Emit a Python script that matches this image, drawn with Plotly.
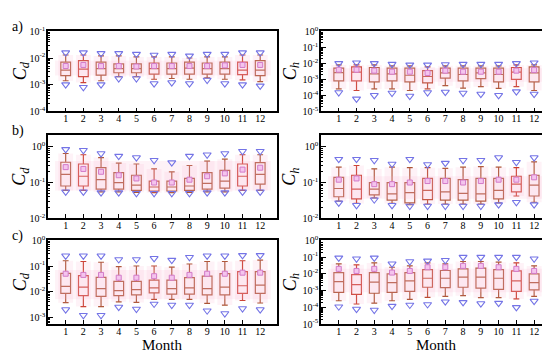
import plotly.graph_objects as go

months = list(range(1, 13))

# ---- Panel a) Cd ----
a_cd_tri_hi = [1.6e-2, 1.6e-2, 1.5e-2, 1.5e-2, 1.4e-2, 1.3e-2, 1.4e-2, 1.2e-2, 1.4e-2, 1.4e-2, 1.6e-2, 1.6e-2]
a_cd_wh_hi = [1.3e-2, 1.3e-2, 1.2e-2, 1.2e-2, 1.1e-2, 1.1e-2, 1.1e-2, 1.0e-2, 1.1e-2, 1.1e-2, 1.3e-2, 1.3e-2]
a_cd_q3 = [7e-3, 8e-3, 7e-3, 6e-3, 6e-3, 6.5e-3, 6.5e-3, 7e-3, 6.5e-3, 7e-3, 7e-3, 8e-3]
a_cd_med = [3.5e-3, 3.8e-3, 4.0e-3, 4.0e-3, 4.0e-3, 4.0e-3, 4.0e-3, 4.2e-3, 4.0e-3, 4.0e-3, 3.5e-3, 3.5e-3]
a_cd_q1 = [2.2e-3, 2.0e-3, 2.3e-3, 2.8e-3, 2.8e-3, 2.5e-3, 2.5e-3, 2.5e-3, 2.5e-3, 2.5e-3, 2.4e-3, 2.2e-3]
a_cd_wh_lo = [1.4e-3, 1.2e-3, 1.4e-3, 2.0e-3, 2.0e-3, 1.6e-3, 1.7e-3, 1.6e-3, 1.8e-3, 1.6e-3, 1.5e-3, 1.3e-3]
a_cd_tri_lo = [1.0e-3, 0.8e-3, 1.0e-3, 1.7e-3, 1.7e-3, 1.1e-3, 1.2e-3, 1.1e-3, 1.5e-3, 1.1e-3, 1.0e-3, 0.9e-3]
a_cd_mean = [5e-3, 5.5e-3, 5e-3, 5e-3, 4.8e-3, 5e-3, 5e-3, 5e-3, 5e-3, 5.3e-3, 5.5e-3, 5.5e-3]

# ---- Panel a) Ch ----
a_ch_tri_hi = [1e-2, 1.1e-2, 1e-2, 9e-3, 8e-3, 8e-3, 8.5e-3, 9e-3, 9e-3, 9e-3, 1e-2, 1.1e-2]
a_ch_wh_hi = [8e-3, 8e-3, 8e-3, 7e-3, 7e-3, 6e-3, 7e-3, 7e-3, 7e-3, 7e-3, 8e-3, 8e-3]
a_ch_q3 = [5e-3, 6e-3, 5.5e-3, 5e-3, 5e-3, 3.5e-3, 5e-3, 5e-3, 5e-3, 5e-3, 5.5e-3, 6e-3]
a_ch_med = [2.6e-3, 2.8e-3, 2.2e-3, 2.2e-3, 1.8e-3, 1.5e-3, 2.5e-3, 2e-3, 2.5e-3, 2e-3, 2.8e-3, 2.5e-3]
a_ch_q1 = [8e-4, 8e-4, 7e-4, 8e-4, 7e-4, 6e-4, 1.2e-3, 8e-4, 1.1e-3, 7e-4, 1e-3, 7e-4]
a_ch_wh_lo = [2.5e-4, 2e-4, 2.5e-4, 2.5e-4, 2e-4, 2.5e-4, 4e-4, 2.8e-4, 3.5e-4, 2.7e-4, 3.5e-4, 2e-4]
a_ch_tri_lo = [1.5e-4, 6e-5, 1e-4, 1.4e-4, 9e-5, 1.5e-4, 1.6e-4, 1.4e-4, 1.2e-4, 1e-4, 1.7e-4, 1.2e-4]
a_ch_mean = [4e-3, 4e-3, 3.5e-3, 3e-3, 3e-3, 2.5e-3, 3.5e-3, 3e-3, 3e-3, 3e-3, 3.5e-3, 3.8e-3]

# ---- Panel b) Cd ----
b_cd_tri_hi = [0.85, 0.8, 0.65, 0.55, 0.5, 0.42, 0.36, 0.55, 0.6, 0.65, 0.75, 0.75]
b_cd_wh_hi = [0.65, 0.6, 0.5, 0.35, 0.33, 0.24, 0.2, 0.3, 0.4, 0.45, 0.6, 0.6]
b_cd_q3 = [0.37, 0.33, 0.26, 0.19, 0.16, 0.11, 0.11, 0.13, 0.19, 0.22, 0.33, 0.36]
b_cd_med = [0.17, 0.15, 0.12, 0.1, 0.085, 0.075, 0.075, 0.08, 0.095, 0.11, 0.15, 0.17]
b_cd_q1 = [0.08, 0.08, 0.065, 0.065, 0.06, 0.058, 0.058, 0.06, 0.065, 0.07, 0.08, 0.09]
b_cd_wh_lo = [0.06, 0.06, 0.055, 0.055, 0.053, 0.052, 0.052, 0.053, 0.055, 0.055, 0.06, 0.06]
b_cd_tri_lo = [0.055, 0.055, 0.052, 0.052, 0.05, 0.05, 0.05, 0.05, 0.052, 0.052, 0.055, 0.055]
b_cd_mean = [0.27, 0.24, 0.2, 0.16, 0.13, 0.1, 0.1, 0.12, 0.15, 0.18, 0.23, 0.26]

# ---- Panel b) Ch ----
b_ch_tri_hi = [0.45, 0.45, 0.42, 0.33, 0.45, 0.32, 0.35, 0.42, 0.42, 0.5, 0.37, 0.5]
b_ch_wh_hi = [0.27, 0.3, 0.24, 0.27, 0.26, 0.26, 0.25, 0.27, 0.28, 0.27, 0.26, 0.38]
b_ch_q3 = [0.14, 0.16, 0.1, 0.1, 0.1, 0.13, 0.13, 0.12, 0.13, 0.13, 0.15, 0.16]
b_ch_med = [0.068, 0.065, 0.065, 0.048, 0.052, 0.06, 0.055, 0.05, 0.048, 0.06, 0.09, 0.085]
b_ch_q1 = [0.04, 0.035, 0.045, 0.032, 0.027, 0.033, 0.032, 0.032, 0.03, 0.035, 0.055, 0.042]
b_ch_wh_lo = [0.03, 0.026, 0.037, 0.026, 0.024, 0.025, 0.025, 0.025, 0.025, 0.027, 0.042, 0.028]
b_ch_tri_lo = [0.027, 0.023, 0.033, 0.023, 0.022, 0.022, 0.022, 0.022, 0.022, 0.024, 0.028, 0.024]
b_ch_mean = [0.12, 0.13, 0.09, 0.09, 0.1, 0.11, 0.11, 0.1, 0.11, 0.12, 0.12, 0.14]

# ---- Panel c) Cd ----
c_cd_tri_hi = [0.25, 0.25, 0.25, 0.18, 0.18, 0.2, 0.17, 0.22, 0.25, 0.25, 0.26, 0.26]
c_cd_wh_hi = [0.16, 0.15, 0.14, 0.095, 0.1, 0.1, 0.09, 0.12, 0.15, 0.15, 0.16, 0.17]
c_cd_q3 = [0.052, 0.042, 0.036, 0.025, 0.025, 0.028, 0.028, 0.035, 0.04, 0.05, 0.06, 0.06]
c_cd_med = [0.016, 0.015, 0.013, 0.011, 0.012, 0.014, 0.013, 0.014, 0.013, 0.015, 0.017, 0.018]
c_cd_q1 = [0.0085, 0.007, 0.0065, 0.007, 0.0075, 0.009, 0.008, 0.008, 0.0075, 0.0075, 0.0085, 0.0085]
c_cd_wh_lo = [0.0037, 0.0026, 0.0026, 0.004, 0.0038, 0.005, 0.005, 0.005, 0.0035, 0.003, 0.0045, 0.0036]
c_cd_tri_lo = [0.002, 0.0012, 0.0012, 0.0025, 0.0021, 0.0033, 0.003, 0.003, 0.0018, 0.0014, 0.0022, 0.002]
c_cd_mean = [0.05, 0.045, 0.045, 0.035, 0.035, 0.04, 0.035, 0.045, 0.05, 0.05, 0.055, 0.055]

# ---- Panel c) Ch ----
c_ch_tri_hi = [0.09, 0.08, 0.09, 0.04, 0.055, 0.06, 0.065, 0.1, 0.1, 0.1, 0.1, 0.08]
c_ch_wh_hi = [0.04, 0.035, 0.045, 0.025, 0.03, 0.045, 0.04, 0.055, 0.055, 0.05, 0.045, 0.03]
c_ch_q3 = [0.012, 0.009, 0.012, 0.01, 0.012, 0.018, 0.016, 0.02, 0.022, 0.018, 0.015, 0.01]
c_ch_med = [0.0035, 0.0023, 0.0032, 0.003, 0.0038, 0.0055, 0.0055, 0.0065, 0.0065, 0.0055, 0.0038, 0.003]
c_ch_q1 = [8e-4, 6e-4, 7e-4, 8e-4, 9e-4, 1.6e-3, 1.5e-3, 1.6e-3, 1.4e-3, 1.2e-3, 9e-4, 1.1e-3]
c_ch_wh_lo = [2.5e-4, 1.6e-4, 1.8e-4, 2.5e-4, 3e-4, 4e-4, 4.5e-4, 5e-4, 3.8e-4, 3.8e-4, 3.2e-4, 4.5e-4]
c_ch_tri_lo = [1.1e-4, 8e-5, 7e-5, 1.2e-4, 1.4e-4, 1.5e-4, 2.2e-4, 2e-4, 1.7e-4, 1.8e-4, 1e-4, 2.4e-4]
c_ch_mean = [0.02, 0.015, 0.02, 0.012, 0.015, 0.025, 0.025, 0.03, 0.03, 0.025, 0.02, 0.015]

# overall shaded band (low, high) for each panel
band_a_cd = [2.2e-3, 8e-3]
band_a_ch = [7e-4, 5e-3]
band_b_cd = [0.06, 0.4]
band_b_ch = [0.035, 0.15]
band_c_cd = [0.005, 0.07]
band_c_ch = [8e-4, 0.02]

# y-axis decade exponents shown for each panel
exp_a_cd = [-4, -3, -2, -1]
exp_a_ch = [-5, -4, -3, -2, -1, 0]
exp_b_cd = [-2, -1, 0]
exp_b_ch = [-2, -1, 0]
exp_c_cd = [-3, -2, -1, 0]
exp_c_ch = [-5, -4, -3, -2, -1, 0]

# box edge colour per month
box_colors = ["#a8502e", "#c83a2a", "#a8502e", "#a8502e", "#a8502e", "#b8462c",
              "#a8502e", "#a8502e", "#a8502e", "#a8502e", "#c83a2a", "#a8502e"]

panels = [
    ("x", "y", a_cd_tri_hi, a_cd_wh_hi, a_cd_q3, a_cd_med, a_cd_q1, a_cd_wh_lo, a_cd_tri_lo, a_cd_mean, band_a_cd),
    ("x2", "y2", a_ch_tri_hi, a_ch_wh_hi, a_ch_q3, a_ch_med, a_ch_q1, a_ch_wh_lo, a_ch_tri_lo, a_ch_mean, band_a_ch),
    ("x3", "y3", b_cd_tri_hi, b_cd_wh_hi, b_cd_q3, b_cd_med, b_cd_q1, b_cd_wh_lo, b_cd_tri_lo, b_cd_mean, band_b_cd),
    ("x4", "y4", b_ch_tri_hi, b_ch_wh_hi, b_ch_q3, b_ch_med, b_ch_q1, b_ch_wh_lo, b_ch_tri_lo, b_ch_mean, band_b_ch),
    ("x5", "y5", c_cd_tri_hi, c_cd_wh_hi, c_cd_q3, c_cd_med, c_cd_q1, c_cd_wh_lo, c_cd_tri_lo, c_cd_mean, band_c_cd),
    ("x6", "y6", c_ch_tri_hi, c_ch_wh_hi, c_ch_q3, c_ch_med, c_ch_q1, c_ch_wh_lo, c_ch_tri_lo, c_ch_mean, band_c_ch),
]
exps = [exp_a_cd, exp_a_ch, exp_b_cd, exp_b_ch, exp_c_cd, exp_c_ch]

fig = go.Figure()
pink = "rgba(250,175,210,0.17)"
for xa, ya, thi, whi, q3, med, q1, wlo, tlo, mean, band in panels:
    fig.add_trace(go.Scatter(x=[0.4, 12.6, 12.6, 0.4], y=[band[0], band[0], band[1], band[1]],
                             fill="toself", fillcolor=pink, line=dict(width=0), mode="lines",
                             xaxis=xa, yaxis=ya, hoverinfo="skip", showlegend=False))
    for i, m in enumerate(months):
        fig.add_trace(go.Scatter(x=[m - 0.42, m + 0.42, m + 0.42, m - 0.42],
                                 y=[wlo[i], wlo[i], whi[i], whi[i]],
                                 fill="toself", fillcolor=pink, line=dict(width=0), mode="lines",
                                 xaxis=xa, yaxis=ya, hoverinfo="skip", showlegend=False))
    for i, m in enumerate(months):
        fig.add_trace(go.Box(x=[m], q1=[q1[i]], median=[med[i]], q3=[q3[i]],
                             lowerfence=[wlo[i]], upperfence=[whi[i]],
                             width=0.55, whiskerwidth=0.6, boxpoints=False,
                             fillcolor="rgba(0,0,0,0)",
                             line=dict(color=box_colors[i], width=1.2),
                             xaxis=xa, yaxis=ya, showlegend=False))
    for arr in (thi, tlo):
        fig.add_trace(go.Scatter(x=months, y=arr, mode="markers",
                                 marker=dict(symbol="triangle-down-open", size=7, color="#7474e6",
                                             line=dict(width=1.1)),
                                 xaxis=xa, yaxis=ya, showlegend=False))
    fig.add_trace(go.Scatter(x=months, y=mean, mode="markers",
                             marker=dict(symbol="square", size=5, color="#f4c4ee",
                                         line=dict(color="#d27ac8", width=1)),
                             xaxis=xa, yaxis=ya, showlegend=False))

W, H = 550, 353
xl = [40 / W, 269 / W]
xr = [313 / W, 543 / W]
rows = {"a": [(H - 100) / H, (H - 17) / H],
        "b": [(H - 211) / H, (H - 125) / H],
        "c": [(H - 321) / H, (H - 234) / H]}
yranges = [[-4, -1], [-5, 0], [-2, 0.32], [-2, 0.32], [-3.27, 0], [-5, 0]]

font = "Liberation Serif"
axis_common = dict(showline=True, linecolor="black", linewidth=1.5, mirror=True,
                   showgrid=False, zeroline=False, ticks="inside", tickcolor="black")
layout = dict(width=W, height=H, margin=dict(l=0, r=0, t=0, b=0),
              paper_bgcolor="white", plot_bgcolor="white", showlegend=False,
              boxmode="overlay")
doms = [(xl, rows["a"]), (xr, rows["a"]), (xl, rows["b"]), (xr, rows["b"]), (xl, rows["c"]), (xr, rows["c"])]
for k, ((xd, yd), yr, ex) in enumerate(zip(doms, yranges, exps)):
    sfx = "" if k == 0 else str(k + 1)
    layout["xaxis" + sfx] = dict(axis_common, domain=xd, range=[0, 12.95], tickvals=months,
                                 ticklen=4, anchor="y" + sfx, ticklabelstandoff=-3,
                                 tickfont=dict(family=font, size=10, color="black"))
    layout["yaxis" + sfx] = dict(axis_common, domain=yd, range=yr, type="log",
                                 tickvals=[10.0 ** e for e in ex],
                                 ticktext=["10<sup>%d</sup>" % e for e in ex],
                                 ticklen=5, ticklabelstandoff=-1,
                                 tickfont=dict(family=font, size=10, color="black"),
                                 minor=dict(ticks="inside", ticklen=2.5, tickcolor="black", dtick="D1"),
                                 anchor="x" + sfx)
fig.update_layout(**layout)

ann = []
for txt, yy in [("a)", 1 - 12 / H), ("b)", 1 - 120 / H), ("c)", 1 - 229 / H)]:
    ann.append(dict(text=txt, x=0.003, y=yy, xref="paper", yref="paper", showarrow=False,
                    xanchor="left", yanchor="middle", font=dict(family=font, size=14, color="black")))
for txt, xx, yd in [("<i>C<sub>d</sub></i>", 13 / W, rows["a"]), ("<i>C<sub>h</sub></i>", 283 / W, rows["a"]),
                    ("<i>C<sub>d</sub></i>", 13 / W, rows["b"]), ("<i>C<sub>h</sub></i>", 283 / W, rows["b"]),
                    ("<i>C<sub>d</sub></i>", 13 / W, rows["c"]), ("<i>C<sub>h</sub></i>", 283 / W, rows["c"])]:
    ann.append(dict(text=txt, x=xx, y=(yd[0] + yd[1]) / 2, xref="paper", yref="paper", showarrow=False,
                    textangle=-90, xanchor="center", yanchor="middle",
                    font=dict(family=font, size=18, color="black")))
for xx in [(xl[0] + xl[1]) / 2, (xr[0] + xr[1]) / 2]:
    ann.append(dict(text="Month", x=xx, y=0.0, xref="paper", yref="paper", showarrow=False,
                    xanchor="center", yanchor="bottom", font=dict(family=font, size=15, color="black")))
fig.update_layout(annotations=ann)

fig.write_html("out.html")
